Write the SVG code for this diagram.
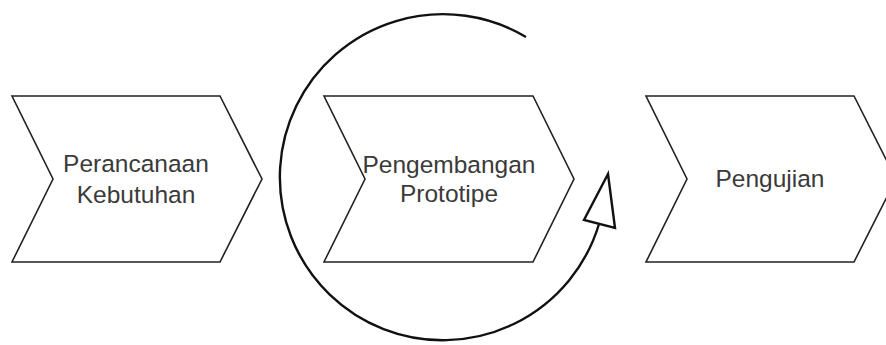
<svg xmlns="http://www.w3.org/2000/svg" width="886" height="345" viewBox="0 0 886 345">
<style>
.chev{fill:#fff;stroke:#222;stroke-width:1.6;stroke-linejoin:miter}
.lbl{font-family:"Liberation Sans",Arial,sans-serif;font-size:24.5px;fill:#3a3a3a;text-anchor:middle}
.conn{fill:none;stroke:#111;stroke-width:2.4}
.head{fill:#fff;stroke:#111;stroke-width:2.4;stroke-linejoin:miter}
</style>
<g id="node-perancanaan">
<polygon class="chev" points="12,96 220,96 262,179 220,262 12,262 53,179"/>
<text class="lbl" x="136" y="172">Perancanaan</text>
<text class="lbl" x="136" y="203">Kebutuhan</text>
</g>
<g id="node-pengembangan">
<polygon class="chev" points="324,96 533,96 574,179 533,262 324,262 365,179"/>
<text class="lbl" x="449" y="173">Pengembangan</text>
<text class="lbl" x="449" y="202">Prototipe</text>
</g>
<g id="node-pengujian">
<polygon class="chev" points="646,96 854,96 896,179 854,262 646,262 687,179"/>
<text class="lbl" x="770" y="187">Pengujian</text>
</g>
<g id="connectors">
<path class="conn" d="M526,37 A163,163 0 1 0 599,224"/>
<polygon class="head" points="608,174 584,220 615,228"/>
</g>
</svg>
